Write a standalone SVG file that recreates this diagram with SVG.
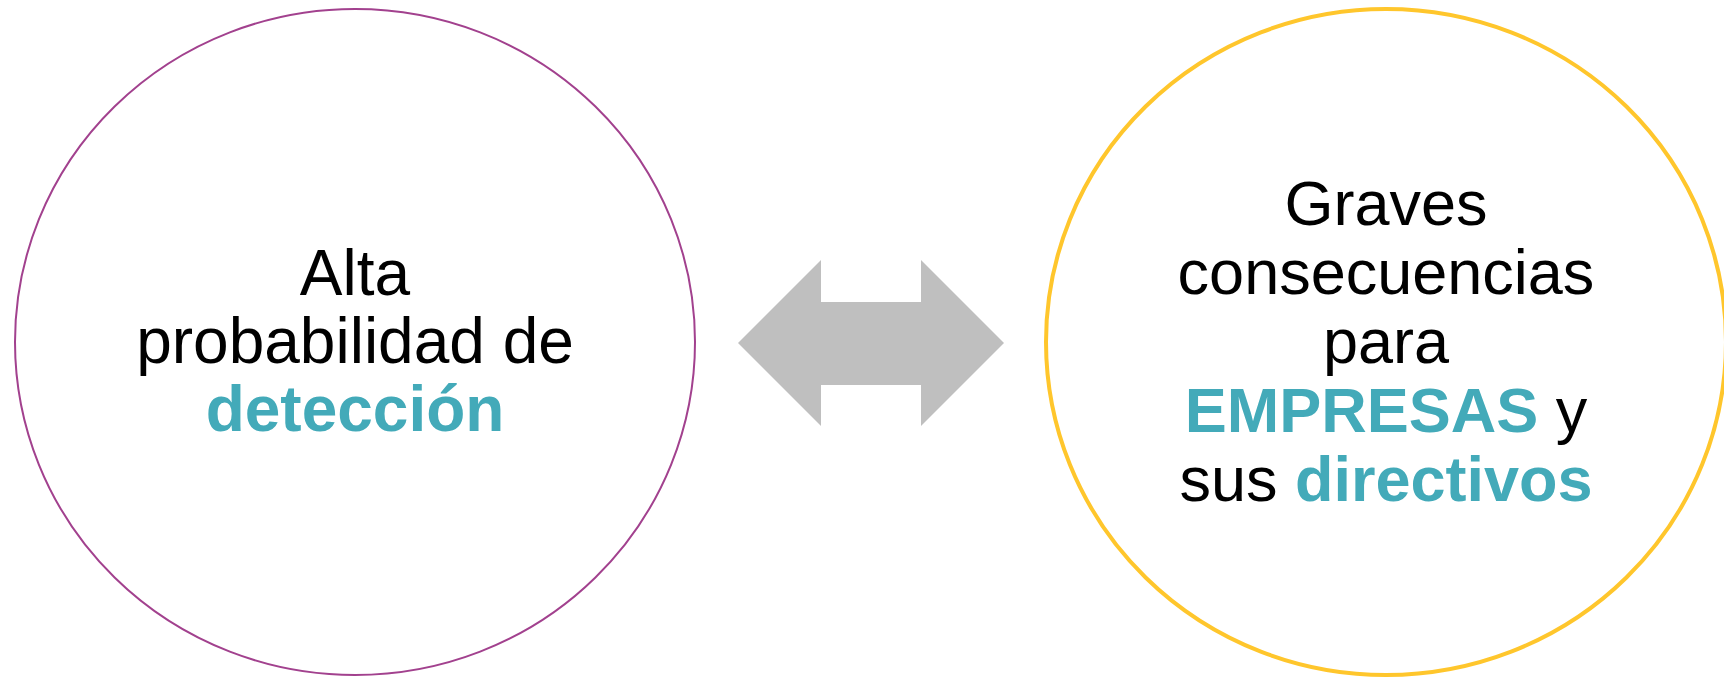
<svg xmlns="http://www.w3.org/2000/svg" width="1724" height="677" viewBox="0 0 1724 677">
<style>
.t{font-family:"Liberation Sans",Arial,sans-serif;text-anchor:middle;fill:#000}
.b{font-weight:bold;fill:#43AAB9}
</style>
<rect width="1724" height="677" fill="#fff"/>
<g id="connectors">
<polygon points="738,343 821,260 821,302 921,302 921,260 1004,343 921,426 921,385 821,385 821,426" fill="#BFBFBF"/>
</g>
<g id="node-left">
<ellipse cx="355" cy="342" rx="340" ry="333" fill="none" stroke="#A2418E" stroke-width="2"/>
<text class="t" font-size="64" x="355" y="295">Alta</text>
<text class="t" font-size="64" x="355" y="363">probabilidad de</text>
<text class="t b" font-size="64" x="355" y="431">detección</text>
</g>
<g id="node-right">
<ellipse cx="1386" cy="342" rx="340" ry="333" fill="none" stroke="#FFC62C" stroke-width="4"/>
<text class="t" font-size="63" x="1386" y="225">Graves</text>
<text class="t" font-size="63" x="1386" y="294">consecuencias</text>
<text class="t" font-size="63" x="1386" y="363">para</text>
<text class="t" font-size="63" x="1386" y="432"><tspan class="b">EMPRESAS</tspan> y</text>
<text class="t" font-size="63" x="1386" y="501">sus <tspan class="b">directivos</tspan></text>
</g>
</svg>
